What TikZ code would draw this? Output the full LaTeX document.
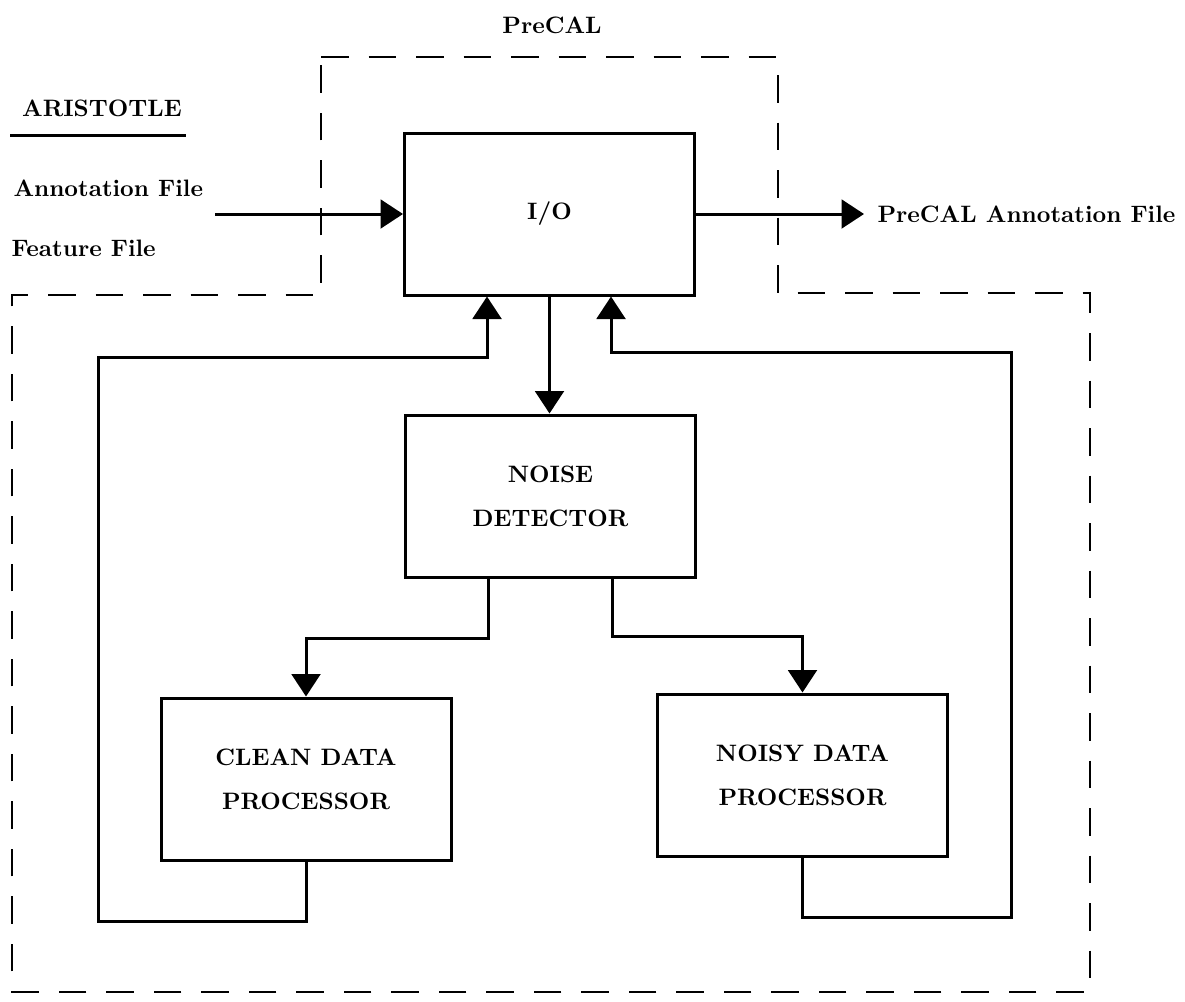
\documentclass[tikz,border=0pt]{standalone}
\usetikzlibrary{arrows.meta,calc}
\newcommand\lblfont{\fontsize{9.5}{11}\selectfont\bfseries}
\newcommand\boxfont{\fontsize{9.5}{17.6}\selectfont\bfseries}
\begin{document}
\begin{tikzpicture}[x=0.4pt,y=-0.4pt,
  box/.style={draw, line width=1.2pt, minimum width=116pt, minimum height=64.8pt, inner sep=0pt, align=center, font=\boxfont},
  wire/.style={line width=1.2pt},
  arr/.style={wire, -{Triangle[length=9pt,width=11.5pt]}},
  frame/.style={line width=0.8pt, dash pattern=on 11pt off 8pt},
  lbl/.style={inner sep=0pt, font=\lblfont}]
\useasboundingbox (0,0) rectangle (1185,1001);

% dashed PreCAL boundary
\draw[frame] (321,57) -- (778,57) -- (778,293) -- (1090,293) -- (1090,992)
  -- (12,992) -- (12,295) -- (321,295) -- cycle;

% labels
\node[lbl] (precal) at (552,25) {PreCAL};
\node[lbl] (aristotle) at (102,108) {ARISTOTLE};
\draw[wire] (10,135) -- (186,135);
\node[lbl, anchor=west] (annot) at (13,188) {Annotation File};
\node[lbl, anchor=west] (feat) at (11,248) {Feature File};
\node[lbl, anchor=west] (outlbl) at (877,214) {PreCAL Annotation File};

% boxes
\node[box] (io) at (549.5,214) {I/O};
\node[box] (noise) at (550.5,496) {NOISE\\DETECTOR};
\node[box] (clean) at (306,779) {CLEAN DATA\\PROCESSOR};
\node[box] (noisy) at (802.5,775) {NOISY DATA\\PROCESSOR};

% connectors
\coordinate (ain) at (215,214);
\coordinate (aout) at (864,214);
\draw[arr] (ain) -- (io.west);
\draw[arr] (io.east) -- (aout);
\draw[arr] (io.south) -- (io.south |- noise.north);
\draw[arr] ($(noise.south west)+(84,0)$) -- ++(0,60) -| (clean.north);
\draw[arr] ($(noise.south west)+(208,0)$) -- ++(0,58) -| (noisy.north);
\draw[arr] (clean.south) -- ++(0,60) -| (98,357) -| ($(io.south west)+(84,0)$);
\draw[arr] (noisy.south) -- ++(0,60) -| (1011,352) -| ($(io.south west)+(208,0)$);
\end{tikzpicture}
\end{document}
